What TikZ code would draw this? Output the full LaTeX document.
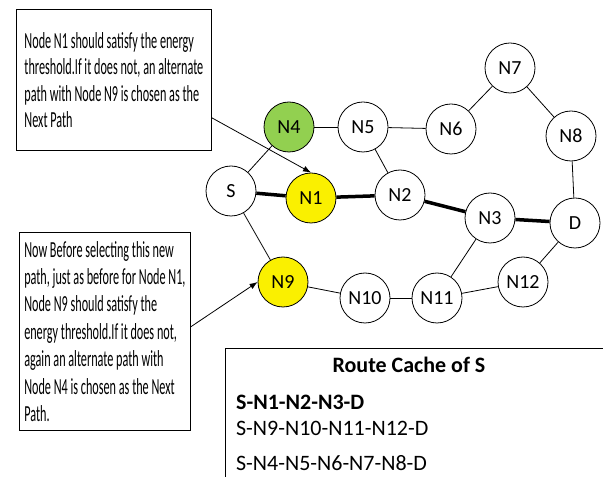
\documentclass[tikz,border=0pt]{standalone}
\usepackage{fontspec}
\setmainfont{Carlito}
\newfontfamily\notefont[FakeStretch=0.53]{Carlito}
\usetikzlibrary{calc,arrows.meta}
\definecolor{leafgreen}{RGB}{146,208,80}
\definecolor{lemon}{RGB}{250,240,0}

\begin{document}
\begin{tikzpicture}[x=1pt,y=1pt,
    vertex/.style={circle,draw,line width=0.8pt,minimum size=50pt,inner sep=0pt,
      font=\fontsize{20}{24}\selectfont},
    note/.style={draw,line width=0.8pt,align=left,inner sep=0pt,anchor=north west,
      font=\notefont\fontsize{23}{26.5}\selectfont},
    cache/.style={anchor=west,inner sep=0pt,font=\fontsize{22}{26}\selectfont},
    link/.style={line width=0.8pt},
    route/.style={line width=3.5pt},
    pointer/.style={line width=0.8pt,-{Latex[length=8pt,width=6pt]}}]
  \useasboundingbox (0,0) rectangle (603,477);
  \clip (0,0) rectangle (603,477);

  \draw
    (231,286) node[vertex] (S){S}
    (311,279) node[vertex,fill=lemon] (N1){N1}
    (400,282) node[vertex] (N2){N2}
    (490,259) node[vertex] (N3){N3}
    (575,254) node[vertex] (D){D}
    (289,350) node[vertex,fill=leafgreen] (N4){N4}
    (363,350) node[vertex] (N5){N5}
    (451,348) node[vertex] (N6){N6}
    (510,409) node[vertex] (N7){N7}
    (571,341) node[vertex] (N8){N8}
    (283,195) node[vertex,fill=lemon] (N9){N9}
    (365,179) node[vertex] (N10){N10}
    (437,179) node[vertex] (N11){N11}
    (523,195) node[vertex] (N12){N12};
  \begin{scope}[link]
    \draw (S) to (N4);
    \draw (S) to (N9);
    \draw (N4) to (N5);
    \draw (N5) to (N6);
    \draw (N5) to (N2);
    \draw (N6) to (N7);
    \draw (N7) to (N8);
    \draw (N8) to (D);
    \draw (N9) to (N10);
    \draw (N10) to (N11);
    \draw (N11) to (N3);
    \draw (N11) to (N12);
    \draw (N12) to (D);
  \end{scope}
  \begin{scope}[route]
    \draw (S) to (N1);
    \draw (N1) to (N2);
    \draw (N2) to (N3);
    \draw (N3) to (D);
  \end{scope}

  % notes on the left
  \node[note,minimum width=195pt,minimum height=141pt] (tip1) at (16,468)
    {Node N1 should satisfy the energy\\
     threshold.If it does not, an alternate\\
     path with Node N9 is chosen as the\\
     Next Path};
  \node[note,minimum width=171pt,minimum height=198pt,
        font=\notefont\fontsize{23}{27.4}\selectfont] (tip2) at (19,245)
    {Now Before selecting this new\\
     path, just as before for Node N1,\\
     Node N9 should satisfy the\\
     energy threshold.If it does not,\\
     again an alternate path with\\
     Node N4 is chosen as the Next\\
     Path.};
  \draw[pointer] ($(tip1.south east)+(0,33)$) to (N1.north);
  \draw[pointer] ($(tip2.south east)+(0,104)$) to (N9.west);

  % route cache
  \node[draw,line width=0.8pt,anchor=north west,minimum width=400pt,minimum height=160pt]
    (cachebox) at (225,129) {};
  \node[cache,anchor=center,font=\bfseries\fontsize{22}{26}\selectfont] (title) at (409,112) {Route Cache of S};
  \node[cache,font=\bfseries\fontsize{22}{26}\selectfont] (path1) at (236,75) {S-N1-N2-N3-D};
  \node[cache] (path2) at (236,49) {S-N9-N10-N11-N12-D};
  \node[cache] (path3) at (236,14) {S-N4-N5-N6-N7-N8-D};
\end{tikzpicture}
\end{document}
